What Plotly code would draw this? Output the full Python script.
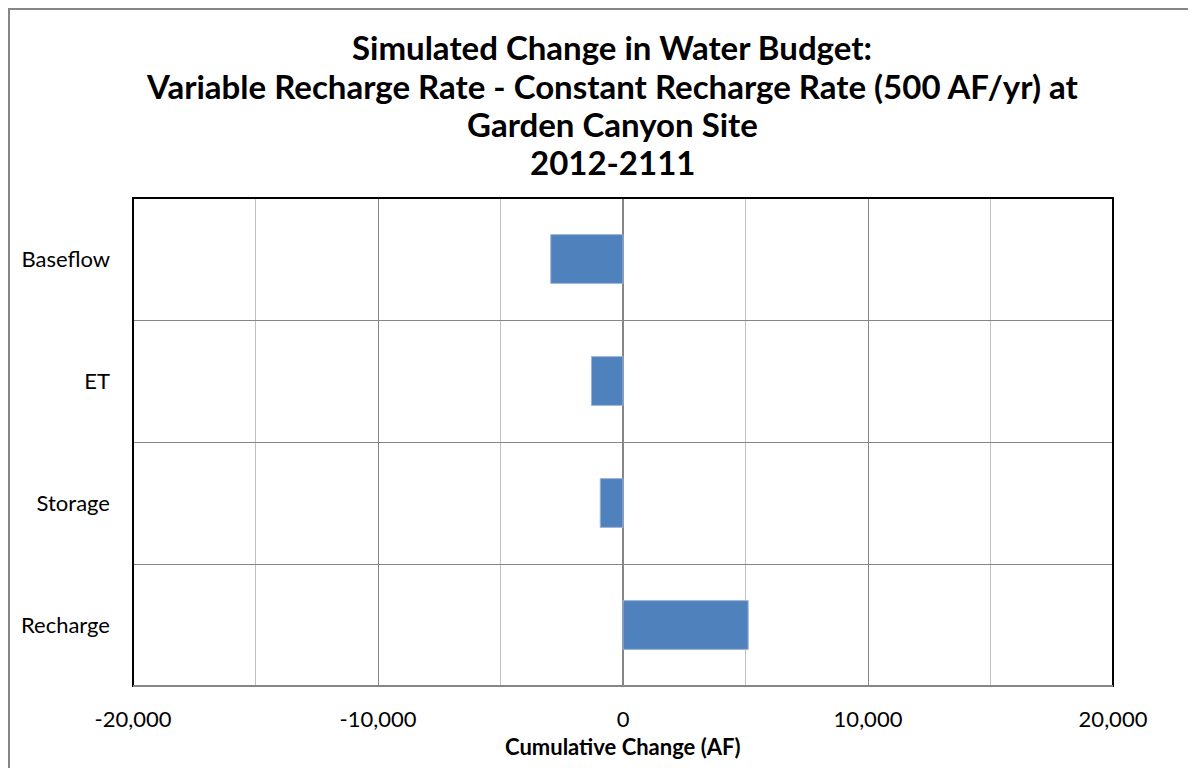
import plotly.graph_objects as go

# Data (bottom-to-top order)
categories = ["Recharge", "Storage", "ET", "Baseflow"]
changes_af = [5110, -930, -1290, -2950]
x_ticks = [-20000, -10000, 0, 10000, 20000]
x_tick_text = ["-20,000", "-10,000", "0", "10,000", "20,000"]
minor_ticks = [-15000, -5000, 5000, 15000]
title_lines = [
    "Simulated Change in Water Budget:",
    "Variable Recharge Rate - Constant Recharge Rate (500 AF/yr) at",
    "Garden Canyon Site",
    "2012-2111",
]

# the page puts the figure 8px in from the top-left corner
OFF = 8
W, H = 1196 - OFF, 768 - OFF
L, R, T, B = 133 - OFF, 1113 - OFF, 198 - OFF, 686 - OFF
PW, PH = R - L, B - T
FONT = "Lato, Open Sans, sans-serif"
DARK = "#868686"
LIGHT = "#c0c0c0"


def px_x(p):
    # page pixel -> paper coordinate
    return (p - OFF - L) / PW


def px_y(p):
    return (B - (p - OFF)) / PH


fig = go.Figure()
fig.add_trace(go.Bar(
    x=changes_af, y=categories, orientation="h", width=0.4,
    marker=dict(color="#4f81bd", line=dict(color="#9db6d8", width=1)),
    showlegend=False,
))

# minor vertical gridlines (lighter), drawn below data
shapes = []
for v in minor_ticks:
    shapes.append(dict(type="line", xref="x", yref="paper", x0=v, x1=v, y0=0, y1=1,
                       line=dict(color=LIGHT, width=1), layer="below"))
# plot-area frame: black left/top/right, grey bottom
shapes.append(dict(type="rect", xref="paper", yref="paper", x0=0, x1=1, y0=0, y1=1,
                   line=dict(color="black", width=2), layer="above"))
shapes.append(dict(type="line", xref="paper", yref="paper", x0=0, x1=1, y0=0, y1=0,
                   line=dict(color=DARK, width=2), layer="above"))
# outer chart border (top and left edges visible)
shapes.append(dict(type="rect", xref="paper", yref="paper",
                   x0=px_x(9), x1=px_x(1210), y0=px_y(780), y1=px_y(9),
                   line=dict(color=DARK, width=2), layer="below"))

annotations = []
for line, yc in zip(title_lines, [47, 86, 124, 162]):
    annotations.append(dict(text=f"<b>{line}</b>", xref="paper", yref="paper",
                            x=px_x(612), y=px_y(yc), xanchor="center", yanchor="middle",
                            showarrow=False, font=dict(family=FONT, size=33, color="black")))
annotations.append(dict(text="<b>Cumulative Change (AF)</b>", xref="paper", yref="paper",
                        x=px_x(623), y=px_y(746), xanchor="center", yanchor="middle",
                        showarrow=False, font=dict(family=FONT, size=22, color="black")))

fig.update_layout(
    width=W, height=H,
    margin=dict(l=L, r=W - R, t=T, b=H - B),
    paper_bgcolor="white", plot_bgcolor="white",
    font=dict(family=FONT, color="black"),
    shapes=shapes, annotations=annotations,
)
fig.update_xaxes(
    range=[-20000, 20000], tickvals=x_ticks, ticktext=x_tick_text,
    showgrid=True, gridcolor=DARK, gridwidth=1,
    zeroline=True, zerolinecolor=DARK, zerolinewidth=2,
    tickfont=dict(family=FONT, size=22), ticks="", ticklabelstandoff=18,
    showline=False, fixedrange=True,
)
fig.update_yaxes(
    type="category", categoryorder="array", categoryarray=categories,
    showgrid=True, gridcolor=DARK, gridwidth=1, tickson="boundaries",
    tickfont=dict(family=FONT, size=22), ticks="", ticklabelstandoff=22,
    showline=False, fixedrange=True,
)

fig.write_html("out.html")
